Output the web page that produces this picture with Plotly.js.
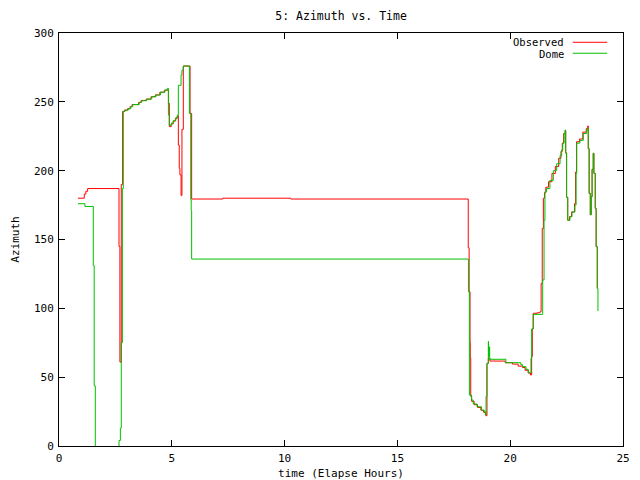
<!DOCTYPE html>
<html>
<head>
<meta charset="utf-8">
<script src="https://cdn.plot.ly/plotly-3.0.1.min.js"></script>
<style>html,body{margin:0;padding:0;background:#fff;}#chart{width:640px;height:480px;}</style>
</head>
<body>
<div id="chart"></div>
<script>
// Observed (red) samples: elapsed hours / azimuth
var obsTime = [0.84,1.12,1.19,1.27,2.66,2.70,2.76,2.82,2.90,3.04,3.15,3.24,3.53,3.64,3.86,4.08,4.27,4.47,4.67,
  4.85,4.89,4.97,5.06,5.16,5.24,5.29,5.33,5.36,5.41,5.45,5.51,5.81,5.88,7.26,10.27,
  18.14,18.18,18.22,18.23,18.25,18.29,18.40,18.55,18.70,18.82,18.92,18.97,19.03,19.10,19.78,20.10,20.35,20.55,20.66,20.80,20.90,
  20.95,20.98,21.02,21.20,21.32,21.37,21.42,21.47,21.52,21.58,21.70,21.85,22.00,22.15,22.25,22.31,22.37,22.44,
  22.46,22.50,22.55,22.63,22.72,22.85,22.90,22.94,23.07,23.22,23.37,23.44,23.46,23.50,23.55,23.59,23.63,23.68,23.71,23.77,23.81,23.86];
var obsAz = [180,183,185,187,145,61,190,243,244,245,246.5,248,249.6,251,252,253.7,255,257,258.5,
  249,232,234,236,238,240,218.6,201.7,197,182,230,276,241.6,179.4,180,179.4,
  144,112,75,64,36,32.5,30,28,26,24.5,22,60,63.7,61.7,60.5,59.5,58,57,55,53,51.6,
  65,85,96.4,96.8,97.5,118,158,180,184,188,192,198,203,209,214,220,227,229,
  213,180.6,164,166.6,170,176,199,221,223,228,230.5,232.5,216,183.5,168,181,201,212.6,198,172.6,144.8,114.5];

// Dome (green) samples
var domeTime = [0.84,1.15,1.52,1.56,1.61,2.66,2.72,2.76,2.81,2.85,2.93,3.07,3.18,3.27,3.56,3.67,3.89,4.11,4.30,4.50,4.70,4.80,
  4.85,4.89,4.99,5.08,5.18,5.26,5.29,5.41,5.45,5.51,5.78,5.84,5.86,5.88,
  18.15,18.19,18.29,18.36,18.53,18.73,18.85,18.90,18.93,18.97,19.03,19.04,19.07,19.09,19.81,20.47,20.55,20.70,20.80,
  20.92,20.95,21.02,21.44,21.50,21.54,21.61,21.76,21.91,22.06,22.21,22.28,22.33,22.39,22.43,
  22.46,22.50,22.55,22.65,22.74,22.87,22.92,22.95,23.09,23.24,23.39,23.44,23.46,23.50,23.55,23.59,23.63,23.68,23.71,23.77,23.81,23.86,23.89];
var domeAz = [176,174,131,43.6,-5,4,13,75,187,243,244,245,246.5,248,249.6,250.8,252,253.7,255,257,258.5,259.8,
  240.4,233,234.6,236.5,238.5,240.4,262,269.5,273,276,241.6,178.7,171,135.8,
  112,37,33.4,30.5,28.5,26,25,22.5,36,60,76,65,72,63,60.5,59,57.6,55.7,53.2,
  63.7,85,95.6,120.6,164,184.7,187,193,200,205,211,215,220,227,229.5,
  212.6,180.6,164,166.6,170,175,198,220,222,227,229.5,231,216,183.5,168,181,201,212.6,198,172.6,144.8,114.5,98];

var seriesNames = ['Observed', 'Dome'];
var seriesColors = ['#ff0000', '#00c000'];
var xTicks = [0,5,10,15,20,25];
var yTicks = [0,50,100,150,200,250,300];

var FONT = 'DejaVu Sans Mono, monospace';

var traces = [
  {x: obsTime, y: obsAz, mode: 'lines', name: seriesNames[0], line: {color: seriesColors[0], width: 1, shape: 'hv'}, showlegend: false},
  {x: domeTime, y: domeAz, mode: 'lines', name: seriesNames[1], line: {color: seriesColors[1], width: 1, shape: 'hv'}, showlegend: false}
];

var axisCommon = {
  showline: true, linecolor: '#000', linewidth: 1, mirror: 'ticks',
  ticks: 'inside', ticklen: 6, tickcolor: '#000', tickwidth: 1,
  showgrid: false, zeroline: false,
  tickfont: {family: FONT, size: 11, color: '#000'},
  layer: 'above traces'
};

var layout = {
  width: 640, height: 480,
  margin: {l: 59, r: 17, t: 33, b: 34, pad: 0},
  paper_bgcolor: '#fff', plot_bgcolor: '#fff',
  font: {family: FONT, size: 11, color: '#000'},
  title: {text: '5: Azimuth vs. Time', font: {family: FONT, size: 11.5, color: '#000'}, x: 0.533, xanchor: 'center', y: 0.967, yanchor: 'middle'},
  xaxis: Object.assign({}, axisCommon, {
    range: [0, 25], tickvals: xTicks, ticktext: xTicks.map(String),
    ticklabelstandoff: 2,
    title: {text: 'time (Elapse Hours)', font: {family: FONT, size: 11, color: '#000'}, standoff: 5}
  }),
  yaxis: Object.assign({}, axisCommon, {
    range: [0, 300], tickvals: yTicks, ticktext: yTicks.map(String),
    ticklabelstandoff: 2,
    title: {text: 'Azimuth', font: {family: FONT, size: 11, color: '#000'}, standoff: 12}
  }),
  showlegend: false,
  annotations: [
    {xref: 'paper', yref: 'paper', x: 0.897, y: 0.9794, xanchor: 'right', yanchor: 'middle', text: seriesNames[0], showarrow: false, borderpad: 0, font: {family: FONT, size: 10.5, color: '#000'}},
    {xref: 'paper', yref: 'paper', x: 0.897, y: 0.949, xanchor: 'right', yanchor: 'middle', text: seriesNames[1], showarrow: false, borderpad: 0, font: {family: FONT, size: 10.5, color: '#000'}}
  ],
  shapes: [
    {type: 'line', xref: 'paper', yref: 'paper', x0: 0.911, x1: 0.972, y0: 0.9775, y1: 0.9775, line: {color: seriesColors[0], width: 1}},
    {type: 'line', xref: 'paper', yref: 'paper', x0: 0.911, x1: 0.972, y0: 0.951, y1: 0.951, line: {color: seriesColors[1], width: 1}}
  ]
};

Plotly.newPlot('chart', traces, layout, {displayModeBar: false, staticPlot: true});
</script>
</body>
</html>
